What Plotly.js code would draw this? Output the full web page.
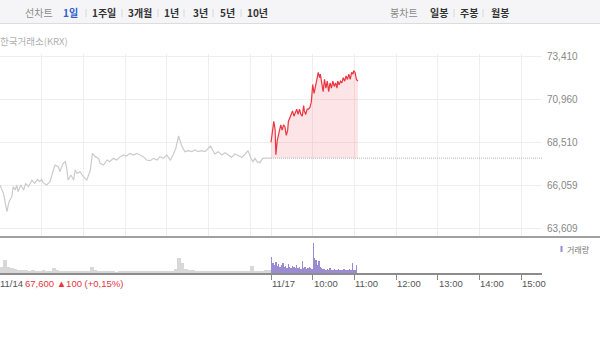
<!DOCTYPE html>
<html>
<head>
<meta charset="utf-8">
<script src="https://cdn.plot.ly/plotly-3.0.1.min.js"></script>
<style>
html,body{margin:0;padding:0;background:#fff;}
#chart{width:600px;height:343px;}
</style>
</head>
<body>
<div id="chart"></div>
<script>
// ---------- DATA ----------
// 11/14 session: minutes after 09:00, price
const day1Min = [0,5,10,13,17,19,22,24,26,30,34,37,41,46,50,54,57,60,62,67,72,76,79,84,86,91,94,96,98,102,106,108,111,115,120,125,127,130,133,137,142,144,149,154,158,163,168,173,178,182,187,192,197,202,206,211,216,221,226,230,235,240,245,249,253,257,261,266,271,276,281,285,290,295,300,303,306,309,314,319,324,329,333,338,343,348,353,357,361,364,367,370,374,378,384,390];
const day1Price = [66066,65590,64542,65114,65400,65971,65780,66066,65685,66066,65780,66162,65971,66352,66162,66390,66257,66390,66200,66066,66257,66828,67209,67114,66828,67305,67400,67019,66352,66638,66352,66924,66733,66828,66543,66352,66543,66924,67876,67686,67590,67305,67209,67495,67400,67590,67495,67686,67781,67724,67876,67781,67876,67781,67686,67495,67457,67590,67495,67686,67590,67781,67495,67781,68162,68867,68352,67971,68029,67971,68067,67971,68029,67971,68162,68295,68067,67838,67971,67781,67914,67781,67648,67838,67724,67648,67838,68029,67590,67400,67590,67400,67343,67590,67600,67600];

// 11/17 session: minutes after 09:00, price
const day2Min = [0,1,4,6,7,9,11,13,14,16,18,20,22,24,25,27,29,31,33,35,37,39,41,43,45,47,48,50,52,54,56,58,60,62,64,66,68,70,71,73,75,77,79,81,83,85,87,89,91,93,95,96,98,100,102,104,106,108,110,112,114,116,118,119,121,123,125];
const day2Price = [68500,68800,69700,69200,67800,68600,69000,69300,69500,69200,69500,69400,68900,69200,69700,69900,70100,70300,70000,70200,70400,70100,70400,70100,70000,70600,70300,70100,70400,70400,70500,70800,71800,71300,71700,71900,72500,72200,72400,71900,71400,72100,71600,72000,71400,71900,71600,72000,71700,71900,71600,72000,71800,72000,71900,72200,72000,72300,72100,72400,72100,72500,72400,72600,72500,72100,72000];

const prevClose = 67600;     // 11/14 close (reference line)
const closeChange = 100;
const closePct = 0.15;

// volume (relative units): 11/14 in 5-minute bins, 11/17 in 2-minute bins
const day1Vol = [6,13,6,5,4,3,3,3,2,3, 2,2,3,2,2,5,3,2,2,2, 2,2,2,2,2,2,6,3,2,2, 2,2,2,1,2,2,2,2,2,2, 2,2,2,2,2,2,2,2,2,2, 4,15,10,4,3,3,2,2,2,2, 2,2,2,2,2,2,2,2,2,2, 2,2,7,2,2,2,3,3];
const day2Vol = [16,10,8,11,7,9,6,8,10,6, 7,5,9,6,5,7,6,5,8,5, 6,4,12,5,6,4,5,6,5,4, 30,15,13,8,12,6,5,4,4,3, 4,3,5,3,3,4,3,3,4,3, 3,3,4,3,3,3,4,3,10,3, 3,8];

const yTickVals = [63609, 66059, 68510, 70960, 73410];
const yTickText = ['63,609', '66,059', '68,510', '70,960', '73,410'];
const xGridVals = [60,120,180,240,300,360,390,450,510,570,630,690,750];
const xTickVals = [0, 390, 450, 510, 570, 630, 690, 750];
const xTickText = ['11/14', '11/17', '10:00', '11:00', '12:00', '13:00', '14:00', '15:00'];

const lineTabs = ['1일', '1주일', '3개월', '1년', '3년', '5년', '10년'];
const candleTabs = ['일봉', '주봉', '월봉'];

// ---------- LAYOUT CONSTANTS ----------
const SESSION = 390;   // minutes per session (09:00-15:30)
const W = 600, H = 343;
const FONT = 'Liberation Sans, Arial, "Noto Sans CJK KR", sans-serif';
const KFONT = '"Noto Sans CJK KR", "Liberation Sans", sans-serif';
const px = v => v / W;
const py = v => 1 - v / H;

const day2X = day2Min.map(m => m + SESSION);
const lastX = day2X[day2X.length - 1];

const traces = [
  { // 11/14 line
    x: day1Min, y: day1Price, type: 'scatter', mode: 'lines',
    line: {color: '#cbcbcb', width: 1.2}, xaxis: 'x', yaxis: 'y', hoverinfo: 'skip'
  },
  { // fill base
    x: [SESSION, lastX], y: [prevClose, prevClose], type: 'scatter', mode: 'lines',
    line: {color: 'rgba(0,0,0,0)', width: 0}, xaxis: 'x', yaxis: 'y', hoverinfo: 'skip'
  },
  { // 11/17 line
    x: day2X, y: day2Price, type: 'scatter', mode: 'lines', fill: 'tonexty',
    fillcolor: 'rgba(246,120,130,0.2)',
    line: {color: '#ec3540', width: 1.2}, xaxis: 'x', yaxis: 'y', hoverinfo: 'skip'
  },
  { // previous close reference line
    x: [SESSION, 2 * SESSION], y: [prevClose, prevClose], type: 'scatter', mode: 'lines',
    line: {color: '#b4b4b4', width: 1, dash: '1px,1px'}, xaxis: 'x', yaxis: 'y', hoverinfo: 'skip'
  },
  { // 11/14 volume
    x: day1Vol.map((v, i) => i * 5 + 2.5), y: day1Vol, type: 'bar', width: 5,
    marker: {color: '#d8d8d8', line: {width: 0}}, xaxis: 'x2', yaxis: 'y2', hoverinfo: 'skip'
  },
  { // 11/17 volume
    x: day2Vol.map((v, i) => SESSION + i * 2 + 1), y: day2Vol, type: 'bar', width: 2,
    marker: {color: '#9a8bd3', line: {width: 0}}, xaxis: 'x2', yaxis: 'y2', hoverinfo: 'skip'
  }
];

const annotations = [];
const shapes = [];

// header bar
shapes.push({type: 'rect', xref: 'paper', yref: 'paper', x0: 0, x1: 1, y0: py(23), y1: 1,
  fillcolor: '#f5f5f7', line: {width: 0}, layer: 'below'});
shapes.push({type: 'line', xref: 'paper', yref: 'paper', x0: 0, x1: 1, y0: py(23.5), y1: py(23.5),
  line: {color: '#dcdcdf', width: 1}});

const lineTabX = [70.5, 104, 140, 171.5, 200, 227.5, 257.5];
const candleTabX = [438.5, 469, 500];
const sepX = [86, 122, 158, 184, 213, 241, 454, 483];
annotations.push({text: '선차트', x: px(38.5), y: py(13), xref: 'paper', yref: 'paper', showarrow: false,
  font: {family: KFONT, size: 10, color: '#8a8a8a'}, xanchor: 'center', yanchor: 'middle'});
lineTabs.forEach((t, i) => annotations.push({text: '<b>' + t + '</b>', x: px(lineTabX[i]), y: py(13),
  xref: 'paper', yref: 'paper', showarrow: false, xanchor: 'center', yanchor: 'middle',
  font: {family: KFONT, size: 10, color: i === 0 ? '#2f5fd0' : '#333'}}));
annotations.push({text: '봉차트', x: px(404), y: py(13), xref: 'paper', yref: 'paper', showarrow: false,
  font: {family: KFONT, size: 10, color: '#8a8a8a'}, xanchor: 'center', yanchor: 'middle'});
candleTabs.forEach((t, i) => annotations.push({text: '<b>' + t + '</b>', x: px(candleTabX[i]), y: py(13),
  xref: 'paper', yref: 'paper', showarrow: false, xanchor: 'center', yanchor: 'middle',
  font: {family: KFONT, size: 10, color: '#333'}}));
sepX.forEach(x => shapes.push({type: 'line', xref: 'paper', yref: 'paper', x0: px(x), x1: px(x),
  y0: py(9), y1: py(17), line: {color: '#d8d8d8', width: 1}}));

// source label
annotations.push({text: '한국거래소(KRX)', x: px(0), y: py(41), xref: 'paper', yref: 'paper',
  showarrow: false, xanchor: 'left', yanchor: 'middle', xshift: -2, font: {family: KFONT, size: 9.5, color: '#b0b0b0'}});

// panel separator line
shapes.push({type: 'line', xref: 'paper', yref: 'paper', x0: 0, x1: 1, y0: py(237), y1: py(237),
  line: {color: '#a0a0a0', width: 2}});

// x labels (left-aligned at ticks)
xTickVals.forEach((v, i) => annotations.push({text: xTickText[i], x: v, xref: 'x2', y: py(283.5), yref: 'paper',
  showarrow: false, xanchor: 'left', yanchor: 'middle', xshift: i === 0 ? -2 : -1,
  font: {family: FONT, size: 9.5, color: '#555'}}));

// close info
const fmt = n => n.toLocaleString('en-US');
annotations.push({text: fmt(prevClose) + ' ▲' + fmt(closeChange) + ' (+' + closePct.toFixed(2).replace('.', ',') + '%)',
  x: px(23), y: py(283.5), xref: 'paper', yref: 'paper', showarrow: false, xanchor: 'left', yanchor: 'middle',
  font: {family: FONT, size: 9.5, color: '#e8343e'}});

// volume legend
shapes.push({type: 'rect', xref: 'paper', yref: 'paper', x0: px(560.5), x1: px(562.5), y0: py(252), y1: py(246),
  fillcolor: '#9a8bd3', line: {width: 0}});
annotations.push({text: '거래량', x: px(564.5), y: py(249), xref: 'paper', yref: 'paper', showarrow: false,
  xanchor: 'left', yanchor: 'middle', font: {family: KFONT, size: 8, color: '#777'}});

const plotRight = 542;
const layout = {
  width: W, height: H,
  margin: {l: 0, r: 0, t: 0, b: 0},
  paper_bgcolor: '#fff', plot_bgcolor: '#fff',
  showlegend: false,
  font: {family: FONT},
  xaxis: {
    domain: [0, plotRight / W], range: [0, 2 * SESSION], anchor: 'y',
    tickvals: xGridVals, showticklabels: false, ticks: '',
    showgrid: true, gridcolor: '#eeeeee', gridwidth: 1,
    zeroline: false, showline: false, fixedrange: true
  },
  yaxis: {
    domain: [py(237), py(54)], range: [63095, 73553], anchor: 'x', side: 'right',
    tickvals: yTickVals, ticktext: yTickText, ticks: '',
    tickfont: {family: FONT, size: 10, color: '#888'}, ticklabelstandoff: 4,
    showgrid: true, gridcolor: '#eeeeee', gridwidth: 1,
    zeroline: false, showline: false, fixedrange: true
  },
  xaxis2: {
    domain: [0, plotRight / W], range: [0, 2 * SESSION], anchor: 'y2',
    tickvals: xTickVals.slice(1), showticklabels: false, ticks: 'outside', ticklen: 5,
    tickcolor: '#888', tickwidth: 1,
    showgrid: false, zeroline: false, showline: true, linecolor: '#8c8c8c', linewidth: 1.5,
    fixedrange: true
  },
  yaxis2: {
    domain: [py(273), py(242)], range: [0, 31], anchor: 'x2',
    showticklabels: false, showgrid: false, zeroline: false, showline: false, ticks: '', fixedrange: true
  },
  bargap: 0,
  shapes: shapes,
  annotations: annotations
};

Plotly.newPlot('chart', traces, layout, {staticPlot: true, displayModeBar: false});
</script>
</body>
</html>
